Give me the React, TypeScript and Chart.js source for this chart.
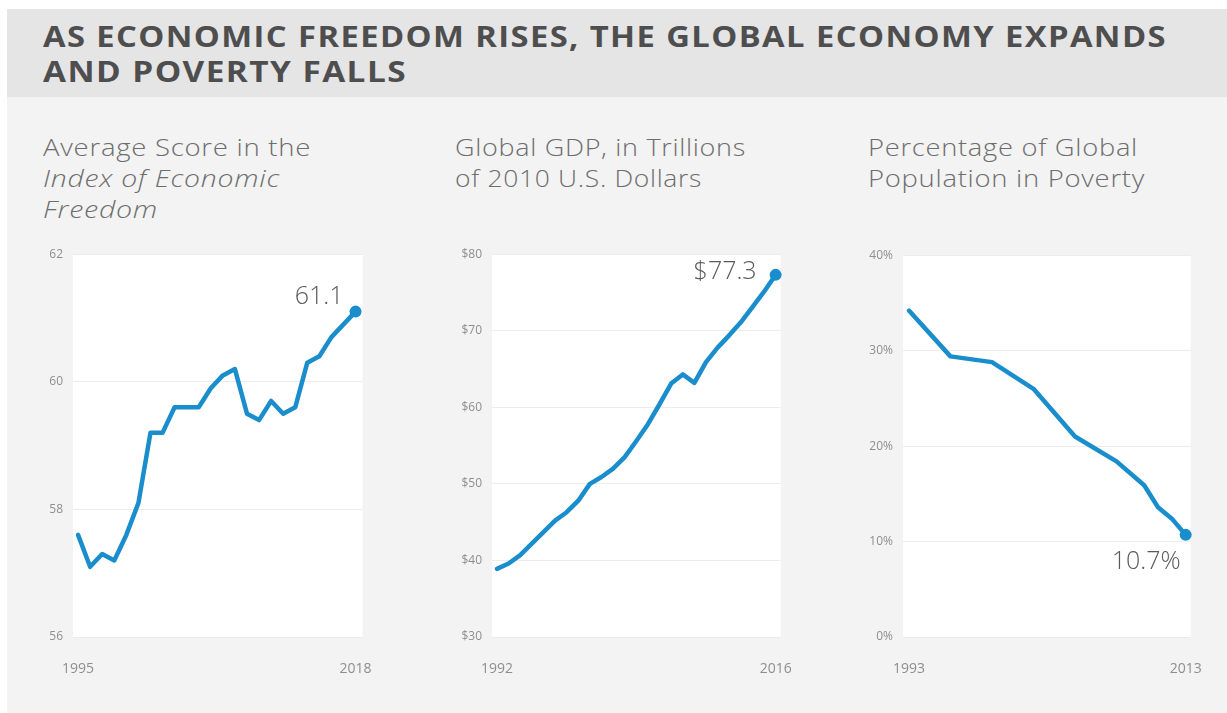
import React, { useEffect, useLayoutEffect, useRef } from "react";
import { Chart, registerables } from "chart.js";

Chart.register(...registerables);

// ---------- DATA ----------
const freedomYears = [1995, 1996, 1997, 1998, 1999, 2000, 2001, 2002, 2003, 2004, 2005, 2006, 2007, 2008, 2009, 2010, 2011, 2012, 2013, 2014, 2015, 2016, 2017, 2018];
const freedomScores = [57.6, 57.1, 57.3, 57.2, 57.6, 58.1, 59.2, 59.2, 59.6, 59.6, 59.6, 59.9, 60.1, 60.2, 59.5, 59.4, 59.7, 59.5, 59.6, 60.3, 60.4, 60.7, 60.9, 61.1];
const freedomTicks = [56, 58, 60, 62];

const gdpYears = [1992, 1993, 1994, 1995, 1996, 1997, 1998, 1999, 2000, 2001, 2002, 2003, 2004, 2005, 2006, 2007, 2008, 2009, 2010, 2011, 2012, 2013, 2014, 2015, 2016];
const gdpValues = [38.9, 39.6, 40.7, 42.2, 43.7, 45.2, 46.3, 47.8, 50.0, 50.9, 52.0, 53.5, 55.6, 57.8, 60.4, 63.1, 64.3, 63.2, 65.9, 67.8, 69.4, 71.1, 73.1, 75.1, 77.3];
const gdpTicks = [30, 40, 50, 60, 70, 80];

const povertyYears = [1993, 1996, 1999, 2002, 2005, 2008, 2010, 2011, 2012, 2013];
const povertyValues = [34.2, 29.4, 28.8, 26.0, 21.0, 18.4, 15.9, 13.6, 12.4, 10.7];
const povertyTicks = [0, 10, 20, 30, 40];

const titleLines = ["AS ECONOMIC FREEDOM RISES, THE GLOBAL ECONOMY EXPANDS", "AND POVERTY FALLS"];

// ---------- STYLE ----------
const BLUE = "#1a8dcc";
const TICK_COLOR = "#8e8e8e";
const GRID_COLOR = "#ececec";
const SUB_COLOR = "#6d6d6d";
const FONT = "'Open Sans', Lato, sans-serif";

// Text line horizontally stretched to a target width (imitates a wide geometric face)
function FitLine(props: { text: string; width: number; italic?: boolean }) {
  const ref = useRef<HTMLSpanElement | null>(null);
  useLayoutEffect(() => {
    const el = ref.current;
    if (!el) return;
    const fit = () => {
      el.style.transform = "none";
      const w = el.getBoundingClientRect().width;
      if (w > 0) el.style.transform = `scaleX(${props.width / w})`;
    };
    fit();
    (document as any).fonts?.ready?.then(fit);
  }, []);
  return (
    <div>
      <span
        ref={ref}
        style={{
          display: "inline-block",
          transformOrigin: "0 50%",
          fontStyle: props.italic ? "italic" : "normal",
          whiteSpace: "nowrap",
        }}
      >
        {props.text}
      </span>
    </div>
  );
}

type PanelProps = {
  xs: number[];
  ys: number[];
  yTicks: number[];
  fmt: (v: number) => string;
  endLabel: string;
  labelDx: number;
  labelDy: number;
  padL: number;
  padR: number;
  box: { left: number; top: number; width: number; height: number };
  yWidth: number;
  xHeight: number;
  padTop: number;
  padRight: number;
};

function LinePanel(p: PanelProps) {
  const ref = useRef<HTMLCanvasElement | null>(null);
  useEffect(() => {
    if (!ref.current) return;
    const n = p.xs.length;
    const first = p.xs[0];
    const last = p.xs[n - 1];
    const whiteArea = {
      id: "whiteArea",
      beforeDraw(chart: any) {
        const { ctx, chartArea } = chart;
        ctx.save();
        ctx.fillStyle = "#ffffff";
        ctx.fillRect(chartArea.left, chartArea.top, chartArea.right - chartArea.left, chartArea.bottom - chartArea.top);
        ctx.restore();
      },
    };
    const endLabel = {
      id: "endLabel",
      afterDatasetsDraw(chart: any) {
        const meta = chart.getDatasetMeta(0);
        const pt = meta.data[meta.data.length - 1];
        if (!pt) return;
        const ctx = chart.ctx;
        ctx.save();
        ctx.font = `300 25px ${FONT}`;
        ctx.fillStyle = "#5a5a5a";
        ctx.textAlign = "right";
        ctx.textBaseline = "middle";
        ctx.fillText(p.endLabel, pt.x + p.labelDx, pt.y + p.labelDy);
        ctx.restore();
      },
    };
    const chart = new Chart(ref.current, {
      type: "line",
      data: {
        datasets: [
          {
            data: p.xs.map((x, i) => ({ x, y: p.ys[i] })),
            borderColor: BLUE,
            borderWidth: 4.5,
            borderJoinStyle: "round",
            borderCapStyle: "round",
            tension: 0,
            fill: false,
            clip: false as any,
            pointRadius: (ctx: any) => (ctx.dataIndex === n - 1 ? 6 : 0),
            pointHoverRadius: 0,
            pointBackgroundColor: BLUE,
            pointBorderWidth: 0,
          },
        ],
      },
      options: {
        animation: false,
        responsive: false,
        maintainAspectRatio: false,
        events: [],
        layout: { padding: { left: 0, top: p.padTop, right: p.padRight, bottom: 0 } },
        plugins: { legend: { display: false }, tooltip: { enabled: false }, title: { display: false } },
        scales: {
          x: {
            type: "linear",
            min: first - p.padL,
            max: last + p.padR,
            grid: { display: false },
            border: { display: false },
            afterBuildTicks: (scale: any) => {
              scale.ticks = [{ value: first }, { value: last }];
            },
            afterFit: (scale: any) => {
              scale.height = p.xHeight;
            },
            ticks: {
              autoSkip: false,
              maxRotation: 0,
              padding: 16,
              color: TICK_COLOR,
              font: { family: FONT, size: 14 },
              callback: (v: any) => String(v),
            },
          },
          y: {
            min: p.yTicks[0],
            max: p.yTicks[p.yTicks.length - 1],
            grid: { color: GRID_COLOR, lineWidth: 1, drawTicks: false },
            border: { display: false },
            afterBuildTicks: (scale: any) => {
              scale.ticks = p.yTicks.map((v) => ({ value: v }));
            },
            afterFit: (scale: any) => {
              scale.width = p.yWidth;
            },
            ticks: {
              padding: 10,
              color: TICK_COLOR,
              font: { family: FONT, size: 12 },
              callback: (v: any) => p.fmt(Number(v)),
            },
          },
        },
      },
      plugins: [whiteArea, endLabel],
    } as any);
    return () => chart.destroy();
  }, []);
  return (
    <canvas
      ref={ref}
      width={p.box.width}
      height={p.box.height}
      style={{ position: "absolute", left: p.box.left, top: p.box.top, width: p.box.width, height: p.box.height }}
    />
  );
}

const subStyle: React.CSSProperties = {
  position: "absolute",
  top: 132,
  fontFamily: FONT,
  fontWeight: 300,
  fontSize: 23,
  letterSpacing: "0.6px",
  lineHeight: "31px",
  color: SUB_COLOR,
  whiteSpace: "nowrap",
};

export default function App() {
  return (
    <div style={{ position: "absolute", left: 0, top: 0, width: 1227, height: 713, background: "#ffffff", overflow: "hidden" }}>
      <div style={{ position: "absolute", left: 7, top: 9, width: 1220, height: 704, background: "#f3f3f3" }} />
      <div style={{ position: "absolute", left: 7, top: 9, width: 1220, height: 88, background: "#e5e5e6" }} />
      <div
        style={{
          position: "absolute",
          left: 43,
          top: 19,
          fontFamily: FONT,
          fontWeight: 700,
          fontSize: 28,
          letterSpacing: "1.2px",
          lineHeight: "35px",
          color: "#4e4e4e",
          whiteSpace: "nowrap",
        }}
      >
        <FitLine text={titleLines[0]} width={1124} />
        <FitLine text={titleLines[1]} width={364} />
      </div>

      <div style={{ ...subStyle, left: 43 }}>
        <FitLine text="Average Score in the" width={268} />
        <FitLine text="Index of Economic" width={237} italic />
        <FitLine text="Freedom" width={115} italic />
      </div>
      <div style={{ ...subStyle, left: 455 }}>
        <FitLine text="Global GDP, in Trillions" width={291} />
        <FitLine text="of 2010 U.S. Dollars" width={247} />
      </div>
      <div style={{ ...subStyle, left: 868 }}>
        <FitLine text="Percentage of Global" width={270} />
        <FitLine text="Population in Poverty" width={277} />
      </div>

      <LinePanel
        xs={freedomYears}
        ys={freedomScores}
        yTicks={freedomTicks}
        fmt={(v) => String(v)}
        endLabel="61.1"
        labelDx={-12}
        labelDy={-15}
        padL={0.42}
        padR={0.58}
        box={{ left: 30, top: 237, width: 358, height: 448 }}
        yWidth={43}
        xHeight={48}
        padTop={8}
        padRight={18}
      />
      <LinePanel
        xs={gdpYears}
        ys={gdpValues}
        yTicks={gdpTicks}
        fmt={(v) => "$" + v}
        endLabel="$77.3"
        labelDx={-19}
        labelDy={-3}
        padL={0.43}
        padR={0.43}
        box={{ left: 450, top: 237, width: 358, height: 448 }}
        yWidth={42}
        xHeight={48}
        padTop={7}
        padRight={20}
      />
      <LinePanel
        xs={povertyYears}
        ys={povertyValues}
        yTicks={povertyTicks}
        fmt={(v) => v + "%"}
        endLabel="10.7%"
        labelDx={-5}
        labelDy={27}
        padL={0.43}
        padR={0.36}
        box={{ left: 860, top: 238, width: 358, height: 447 }}
        yWidth={43}
        xHeight={48}
        padTop={11}
        padRight={18}
      />
    </div>
  );
}
